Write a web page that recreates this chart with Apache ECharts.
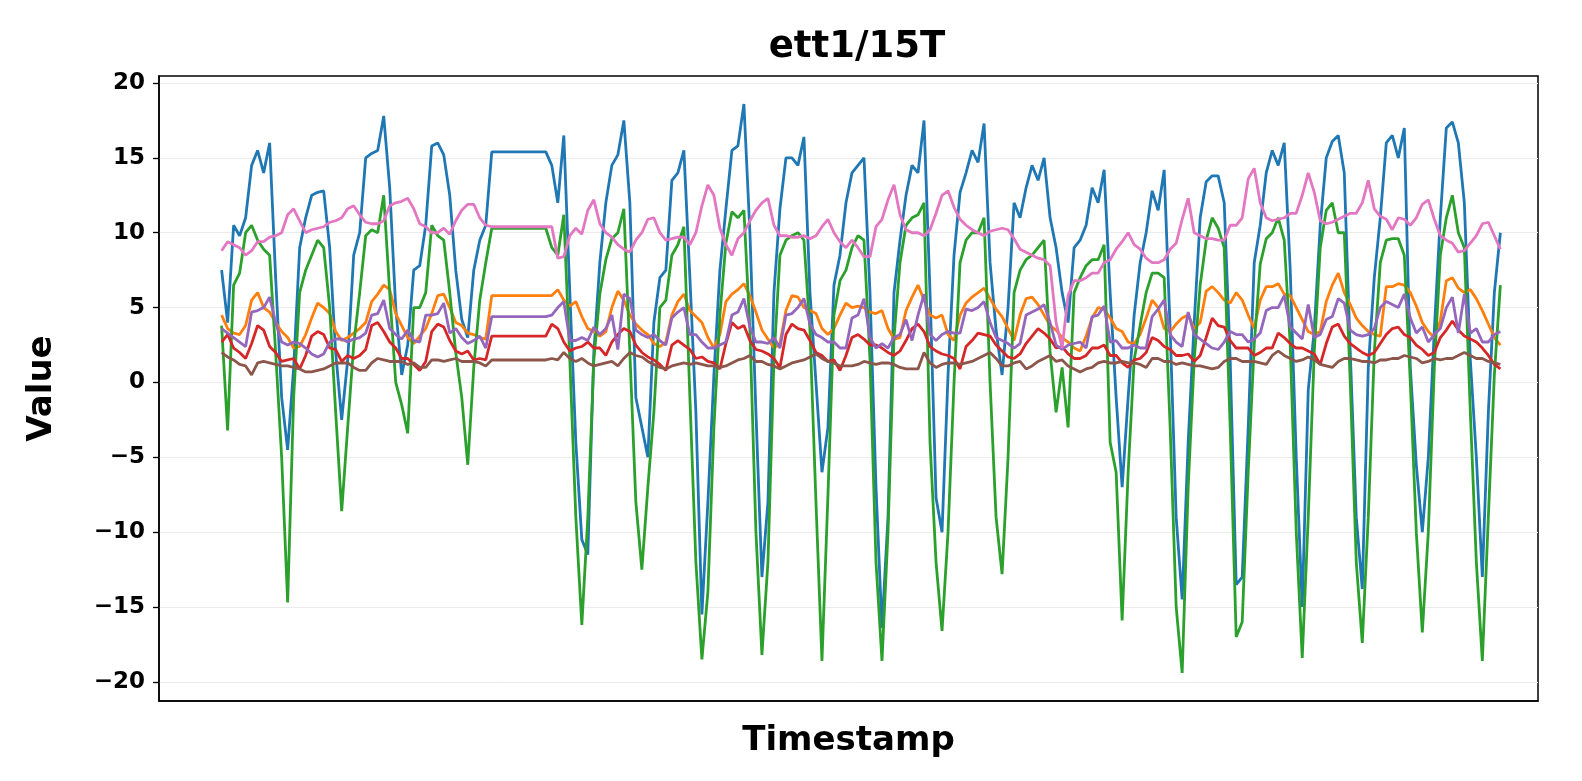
<!DOCTYPE html>
<html>
<head>
<meta charset="utf-8">
<title>ett1/15T</title>
<script src="https://cdn.jsdelivr.net/npm/echarts@6/dist/echarts.min.js"></script>
<style>
  html, body { margin: 0; padding: 0; background: #fff; }
  #chart { width: 1582px; height: 781px; }
</style>
</head>
<body>
<div id="chart"></div>
<script>
// values, one sample every ~6px of the time axis
var HUFL = [
  7.5, 4.0, 10.5, 9.8, 11.0, 14.5, 15.5, 14.0, 16.0, 7.0,
  -1.0, -4.5, 1.0, 9.0, 11.0, 12.5, 12.7, 12.8, 9.0, 2.0,
  -2.5, 1.5, 8.5, 10.0, 15.0, 15.3, 15.5, 17.8, 13.0, 5.0,
  0.5, 2.5, 7.5, 7.8, 10.5,
  15.8, 16.0, 15.2, 12.5, 7.5, 4.2, 3.0, 7.5, 9.5, 10.5,
  15.4, 15.4, 15.4, 15.4, 15.4, 15.4, 15.4, 15.4, 15.4, 15.4,
  14.5, 12.0, 16.5, 6.0, -4.0,
  -10.5, -11.5, 2.0, 8.0, 12.0, 14.5, 15.2, 17.5, 12.0, -1.0,
  -3.0, -5.0, 4.0, 7.0, 7.5, 13.5, 14.0, 15.5, 7.0, -2.0,
  -15.5, -8.0, 0.5, 7.5, 11.6, 15.5, 15.8, 18.6, 10.0, -2.0,
  -13.0, -8.0, 6.0, 11.6, 15.0, 15.0, 14.5, 16.4, 6.0, 0.0,
  -6.0, -3.0, 6.5, 8.5, 12.0,
  14.0, 14.5, 15.0, 6.0, -7.0, -16.4, -9.0, 6.0, 9.5, 12.5,
  14.5, 14.0, 17.5, 6.0, -7.7, -10.0, 0.5, 8.5, 12.7, 14.0,
  15.5, 14.7, 17.3, 8.0, 3.5, 0.5, 5.0, 12.0, 11.0, 13.0,
  14.5, 13.5, 15.0, 11.0, 9.0,
  6.0, 4.0, 9.0, 9.5, 10.5, 13.0, 12.0, 14.2, 6.0, -1.0,
  -7.0, -1.0, 4.5, 8.0, 10.0, 12.8, 11.5, 14.2, 3.5, -9.0,
  -14.5, -4.0, 4.0, 11.0, 13.4, 13.8, 13.8, 12.0, 1.5, -13.5,
  -13.0, -3.0, 8.0, 10.5, 14.0,
  15.5, 14.5, 16.0, 7.5, -5.0, -15.0, -0.5, 3.5, 10.5, 15.0,
  16.1, 16.5, 14.0, 2.0, -9.0, -13.8, 1.0, 7.0, 11.0, 16.0,
  16.5, 15.0, 17.0, 1.0, -5.5, -10.0, -5.0, 3.5, 11.0, 17.0,
  17.4, 16.0, 12.0, 1.5, -5.0, -13.0, -2.0, 6.0, 10.0
];
var HULL = [
  4.5, 3.6, 3.3, 3.2, 3.8, 5.5, 6.0, 5.0, 4.7, 4.0,
  3.4, 3.0, 2.3, 2.4, 3.2, 4.3, 5.3, 5.0, 4.6, 3.4,
  2.8, 3.0, 3.3, 3.6, 4.0, 5.4, 5.9, 6.5, 6.2, 4.6,
  3.8, 3.0, 2.6, 3.1, 3.6,
  4.6, 5.8, 5.9, 5.0, 4.0, 3.8, 3.3, 3.2, 3.0, 2.9,
  5.8, 5.8, 5.8, 5.8, 5.8, 5.8, 5.8, 5.8, 5.8, 5.8,
  5.8, 6.2, 5.5, 5.1, 5.4,
  4.4, 3.6, 3.4, 3.1, 3.4, 5.0, 6.1, 5.5, 4.5, 3.9,
  3.5, 3.2, 2.6, 2.4, 2.7, 4.5, 5.4, 5.9, 4.8, 4.4,
  4.0, 3.0, 2.3, 3.2, 5.4, 5.9, 6.2, 6.6, 5.8, 4.7,
  3.5, 2.9, 2.3, 2.6, 4.8, 5.8, 5.7, 5.0, 4.8, 4.6,
  3.6, 3.2, 3.6, 4.5, 5.3,
  5.0, 5.1, 5.0, 4.7, 4.6, 4.8, 3.6, 2.9, 3.0, 4.8,
  5.7, 6.5, 5.5, 4.5, 4.3, 4.5, 3.2, 2.8, 4.5, 5.3,
  5.7, 6.0, 6.3, 5.6, 4.9, 4.4, 3.6, 2.8, 4.5, 5.6,
  5.7, 5.2, 4.5, 3.8, 3.5,
  3.0, 2.7, 2.3, 2.1, 3.1, 4.3, 5.0, 4.9, 4.3, 3.6,
  3.4, 2.7, 2.6, 3.2, 4.3, 5.5, 5.0, 3.6, 3.4, 3.9,
  4.3, 4.5, 3.6, 4.0, 6.1, 6.4, 6.0, 5.5, 5.3, 6.0,
  5.5, 4.5, 3.6, 5.5, 6.4,
  6.4, 6.6, 5.9, 5.8, 5.0, 4.2, 3.4, 3.2, 3.4, 5.4,
  6.5, 7.3, 6.0, 5.2, 4.3, 3.8, 3.4, 3.2, 3.1, 6.4,
  6.4, 6.6, 6.5, 6.0, 5.1, 4.0, 3.4, 3.0, 4.1, 6.8,
  7.0, 6.3, 6.0, 6.2, 5.6, 4.8, 3.9, 3.0, 2.5
];
var MUFL = [
  3.8, -3.2, 6.5, 7.3, 10.0, 10.5, 9.5, 8.9, 8.5, 2.0,
  -5.0, -14.7, -1.0, 6.0, 7.5, 8.5, 9.5, 9.0, 5.0, -2.0,
  -8.6, -3.0, 2.5, 6.0, 9.8, 10.2, 10.0, 12.5, 6.0, 0.0,
  -1.5, -3.4, 5.0, 5.0, 6.0,
  10.5, 9.8, 9.5, 6.0, 2.0, -1.0, -5.5, 1.0, 5.5, 8.0,
  10.3, 10.3, 10.3, 10.3, 10.3, 10.3, 10.3, 10.3, 10.3, 10.3,
  9.0, 8.5, 11.2, 1.5, -9.0,
  -16.2, -9.0, 1.5, 5.9, 8.2, 9.6, 10.0, 11.6, 2.0, -8.0,
  -12.5, -7.0, -2.0, 5.0, 5.5, 8.5, 9.2, 10.4, -1.0, -12.0,
  -18.5, -14.0, -3.0, 4.5, 9.3, 11.4, 11.0, 11.5, 3.5, -10.0,
  -18.2, -12.0, 1.5, 8.5, 9.5, 9.8, 10.0, 9.5, 3.5, -8.0,
  -18.6, -7.5, 4.5, 6.8, 7.5,
  9.0, 9.8, 9.5, 1.5, -12.0, -18.6, -10.0, 3.0, 8.0, 10.5,
  11.0, 11.2, 12.0, -4.0, -12.0, -16.6, -10.0, 0.0, 8.0, 9.5,
  10.0, 10.0, 11.0, 0.0, -9.0, -12.8, -5.0, 6.0, 7.5, 8.2,
  8.5, 9.0, 9.5, 2.0, -2.0,
  1.0, -3.0, 6.0, 7.0, 7.8, 8.2, 8.2, 9.2, -4.0, -6.0,
  -15.9, -6.0, 1.5, 3.8, 6.0, 7.3, 7.3, 7.0, -3.0, -15.0,
  -19.4, -7.0, 1.5, 6.5, 9.5, 11.0, 10.3, 9.0, -3.0, -17.0,
  -16.0, -6.0, 2.5, 7.9, 9.6,
  10.0, 11.0, 9.5, 2.5, -10.0, -18.4, -9.0, 2.0, 9.0, 11.5,
  12.0, 10.0, 10.0, 0.0, -12.0, -17.4, -9.0, 2.0, 8.0, 9.5,
  9.6, 9.6, 8.5, 0.0, -10.0, -16.7, -10.0, 1.0, 8.5, 11.0,
  12.5, 10.0, 9.0, -2.0, -12.0, -18.6, -9.0, 0.5, 6.5
];
var MULL = [
  2.7, 3.2, 2.3, 2.0, 1.6, 2.6, 3.8, 3.5, 2.4, 2.0,
  1.4, 1.5, 1.6, 0.9, 1.8, 3.1, 3.4, 3.2, 2.3, 2.2,
  1.4, 1.8, 1.6, 1.8, 2.2, 3.8, 4.0, 3.4, 2.7, 2.3,
  1.6, 1.6, 1.2, 0.8, 1.4,
  3.4, 3.9, 3.7, 2.8, 2.1, 1.9, 2.1, 1.5, 1.6, 1.5,
  3.1, 3.1, 3.1, 3.1, 3.1, 3.1, 3.1, 3.1, 3.1, 3.1,
  3.9, 3.6, 2.7, 2.1, 2.3,
  2.4, 2.7, 2.3, 2.3, 1.8, 2.7, 3.2, 3.6, 3.4, 2.5,
  2.0, 1.7, 1.5, 1.2, 0.8, 2.5, 2.8, 2.5, 2.2, 1.6,
  1.7, 1.4, 1.3, 0.9, 2.6, 4.0, 3.6, 3.8, 2.8, 2.2,
  2.1, 1.9, 1.6, 1.0, 3.2, 3.9, 3.6, 3.5, 2.8, 2.0,
  1.8, 1.4, 1.5, 0.8, 1.8,
  3.0, 3.2, 2.9, 2.5, 2.5, 2.3, 2.0, 1.8, 2.1, 2.8,
  3.6, 3.9, 3.4, 2.4, 2.1, 1.9, 1.8, 1.6, 0.9, 2.4,
  2.8, 3.3, 3.2, 3.1, 2.5, 2.1, 1.7, 1.6, 1.9, 2.6,
  3.1, 3.6, 3.3, 2.9, 2.3,
  2.4, 1.9, 1.6, 1.6, 1.8, 2.3, 2.3, 2.5, 1.8, 1.8,
  1.3, 1.0, 1.5, 1.6, 2.0, 3.0, 2.8, 2.4, 2.2, 1.8,
  1.8, 1.9, 1.4, 1.8, 3.0, 4.3, 3.8, 3.7, 2.8, 2.3,
  2.3, 2.3, 1.8, 2.0, 2.3,
  2.3, 3.3, 3.0, 2.6, 2.3, 2.3, 2.1, 1.9, 1.2, 2.6,
  3.7, 3.9, 3.1, 2.6, 2.3, 2.0, 1.8, 2.0, 2.6, 3.2,
  3.6, 3.7, 3.2, 3.0, 2.5, 2.2, 1.8, 2.0, 3.0, 3.5,
  4.1, 3.5, 3.1, 2.9, 2.7, 2.3, 1.8, 1.2, 0.9
];
var LUFL = [
  3.6, 3.3, 3.0, 2.7, 2.4, 4.7, 4.8, 5.0, 5.7, 4.0,
  2.7, 2.5, 2.7, 2.6, 2.3, 1.9, 1.7, 1.9, 2.7, 2.9,
  2.9, 2.7, 2.9, 3.0, 3.3, 4.5, 4.6, 5.5, 3.6, 3.2,
  2.9, 3.5, 2.8, 2.7, 4.5,
  4.5, 4.6, 5.3, 3.3, 3.6, 3.0, 2.6, 2.8, 3.1, 2.3,
  4.4, 4.4, 4.4, 4.4, 4.4, 4.4, 4.4, 4.4, 4.4, 4.4,
  4.5, 5.0, 5.4, 2.8, 2.8,
  3.0, 2.8, 3.7, 3.2, 3.6, 4.5, 2.2, 5.9, 5.6, 3.5,
  3.2, 3.0, 3.2, 2.8, 2.5, 4.3, 4.7, 5.0, 3.2, 3.2,
  2.7, 2.3, 2.3, 2.5, 2.7, 4.5, 4.7, 5.6, 3.7, 2.7,
  2.7, 2.6, 3.0, 2.3, 4.5, 4.6, 5.0, 5.6, 3.9, 3.2,
  3.0, 2.7, 2.7, 2.3, 2.3,
  4.3, 4.5, 5.6, 3.0, 2.3, 2.6, 2.3, 3.0, 3.2, 4.2,
  2.8, 4.5, 5.9, 3.2, 2.8, 3.2, 3.4, 3.3, 3.3, 4.9,
  4.8, 5.0, 5.4, 4.0, 3.0, 2.8, 2.6, 2.3, 2.6, 4.5,
  4.7, 4.9, 5.2, 4.0, 2.5,
  2.2, 2.5, 2.6, 2.7, 2.3, 4.4, 4.5, 5.1, 2.7, 2.8,
  2.3, 2.3, 2.5, 2.3, 2.3, 4.4, 4.9, 5.5, 3.2, 2.7,
  2.4, 4.7, 3.2, 2.9, 2.6, 2.3, 2.2, 2.7, 3.4, 3.2,
  3.2, 2.7, 2.9, 3.3, 4.8,
  5.0, 5.0, 5.8, 3.7, 3.3, 2.9, 5.2, 3.0, 3.2, 4.2,
  4.4, 5.6, 5.3, 3.5, 3.2, 3.1, 3.2, 3.6, 5.0, 5.4,
  5.2, 5.0, 5.9, 4.3, 3.3, 3.7, 2.7, 3.2, 3.6, 5.0,
  5.7, 3.3, 5.9, 3.3, 3.6, 2.7, 2.7, 3.2, 3.4
];
var LULL = [
  2.0, 1.7, 1.5, 1.2, 1.1, 0.5, 1.3, 1.4, 1.3, 1.2,
  1.1, 1.1, 1.0, 0.9, 0.7, 0.7, 0.8, 0.9, 1.1, 1.3,
  1.3, 1.3, 1.0, 0.8, 0.8, 1.3, 1.6, 1.5, 1.4, 1.4,
  1.4, 1.2, 1.3, 1.0, 1.0,
  1.5, 1.5, 1.4, 1.5, 1.6, 1.4, 1.4, 1.4, 1.3, 1.1,
  1.5, 1.5, 1.5, 1.5, 1.5, 1.5, 1.5, 1.5, 1.5, 1.5,
  1.6, 1.5, 2.0, 1.6, 1.4,
  1.6, 1.3, 1.1, 1.2, 1.3, 1.4, 1.1, 1.6, 2.0, 1.8,
  1.7, 1.4, 1.2, 1.0, 0.9, 1.1, 1.2, 1.3, 1.2, 1.3,
  1.2, 1.1, 1.1, 1.0, 1.1, 1.3, 1.5, 1.6, 1.8, 1.4,
  1.4, 1.2, 1.1, 0.9, 1.1, 1.3, 1.4, 1.5, 1.7, 1.9,
  1.6, 1.4, 1.3, 1.1, 1.1,
  1.1, 1.2, 1.4, 1.3, 1.2, 1.3, 1.3, 1.2, 1.0, 0.9,
  0.9, 0.9, 2.0, 1.3, 1.0, 1.2, 1.3, 1.3, 1.2, 1.3,
  1.4, 1.6, 1.8, 2.0, 1.6, 1.1, 1.1, 1.3, 1.4, 0.9,
  1.1, 1.4, 1.6, 1.8, 1.4,
  1.5, 1.1, 0.9, 0.7, 0.9, 1.0, 1.3, 1.4, 1.3, 1.3,
  1.4, 1.3, 1.3, 1.2, 1.0, 1.6, 1.6, 1.4, 1.4, 1.2,
  1.3, 1.2, 1.1, 1.1, 1.0, 0.9, 1.0, 1.4, 1.6, 1.6,
  1.4, 1.4, 1.4, 1.3, 1.2,
  1.8, 2.1, 1.8, 1.6, 1.4, 1.5, 1.7, 1.5, 1.2, 1.1,
  1.0, 1.4, 1.6, 1.6, 1.5, 1.4, 1.4, 1.3, 1.5, 1.5,
  1.6, 1.6, 1.8, 1.7, 1.6, 1.3, 1.4, 1.6, 1.5, 1.6,
  1.6, 1.8, 2.0, 1.8, 1.6, 1.6, 1.4, 1.3, 1.2
];
var OT = [
  8.8, 9.4, 9.2, 9.0, 8.5, 8.8, 9.4, 9.4, 9.7, 9.8,
  10.0, 11.2, 11.6, 10.8, 10.0, 10.2, 10.3, 10.4, 10.7, 10.8,
  11.0, 11.6, 11.8, 11.2, 10.7, 10.6, 10.6, 10.8, 11.8, 12.0,
  12.1, 12.3, 11.6, 10.6, 10.4,
  10.0, 10.0, 10.3, 9.9, 10.8, 11.5, 11.9, 11.9, 11.0, 10.5,
  10.4, 10.4, 10.4, 10.4, 10.4, 10.4, 10.4, 10.4, 10.4, 10.4,
  10.4, 8.3, 8.4, 9.8, 10.3,
  9.9, 11.5, 12.2, 10.6, 10.0, 9.7, 9.2, 8.9, 8.7, 9.5,
  10.0, 10.9, 11.0, 10.0, 9.5, 9.6, 9.7, 9.7, 9.2, 10.0,
  11.8, 13.2, 12.5, 10.3, 9.2, 8.5, 9.6, 10.0, 10.8, 11.5,
  12.0, 12.3, 10.5, 9.8, 9.8, 9.7, 9.7, 9.8, 9.6, 9.8,
  10.4, 10.9, 10.0, 9.4, 9.0,
  9.5, 9.0, 8.4, 8.4, 10.4, 10.9, 12.2, 13.2, 11.2, 10.2,
  10.0, 10.0, 9.8, 10.2, 11.3, 12.5, 12.8, 11.7, 10.9, 10.5,
  10.2, 10.0, 9.8, 10.1, 10.2, 10.3, 10.2, 9.6, 8.9, 8.7,
  8.5, 8.3, 8.2, 7.8, 4.0,
  2.3, 5.8, 6.8, 6.8, 7.0, 7.3, 7.3, 8.0, 8.2, 8.9,
  9.4, 10.0, 9.2, 8.9, 8.3, 8.0, 8.0, 8.2, 8.9, 9.3,
  10.9, 12.3, 10.0, 9.8, 9.6, 9.6, 9.5, 9.5, 10.5, 10.5,
  11.0, 13.6, 14.3, 12.0, 11.0,
  10.8, 10.9, 11.0, 11.3, 11.3, 12.5, 14.0, 12.7, 10.8, 10.6,
  10.7, 10.9, 11.1, 11.3, 11.3, 12.0, 13.5, 11.6, 11.1, 10.9,
  10.2, 11.0, 10.9, 10.5, 11.0, 11.9, 12.2, 10.9, 9.8, 9.5,
  9.3, 8.7, 8.8, 9.3, 9.8, 10.6, 10.7, 9.8, 8.9
];
var seriesNames = ["HUFL", "HULL", "MUFL", "MULL", "LUFL", "LULL", "OT"];
var seriesColors = ["#1f77b4", "#ff7f0e", "#2ca02c", "#d62728", "#9467bd", "#8c564b", "#e377c2"];
var seriesValues = [HUFL, HULL, MUFL, MULL, LUFL, LULL, OT];
var yTicks = [-20, -15, -10, -5, 0, 5, 10, 15, 20];

var font = '"Comic Sans MS", "DejaVu Sans", sans-serif';

function pairs(vals) {
    var out = [];
    for (var i = 0; i < vals.length; i++) out.push([i, vals[i]]);
    return out;
}

var chart = echarts.init(document.getElementById("chart"));
var series = [];
for (var s = 0; s < seriesNames.length; s++) {
    series.push({
        name: seriesNames[s],
        type: "line",
        data: pairs(seriesValues[s]),
        showSymbol: false,
        lineStyle: { color: seriesColors[s], width: 2.8 },
        itemStyle: { color: seriesColors[s] },
        silent: true
    });
}

chart.setOption({
    animation: false,
    backgroundColor: "#fff",
    title: {
        text: "ett1/15T",
        left: 852,
        top: 24,
        textAlign: "center",
        textStyle: { fontFamily: font, fontWeight: "bold", fontSize: 37, color: "#000" }
    },
    grid: {
        left: 159, right: 44, top: 76, bottom: 80,
        show: true, borderColor: "#000", borderWidth: 1.5
    },
    xAxis: {
        type: "value",
        min: -10.43,
        max: 219.27,
        name: "Timestamp",
        nameLocation: "middle",
        nameGap: 23,
        nameTextStyle: { fontFamily: font, fontWeight: "bold", fontSize: 34, color: "#000" },
        axisLine: { show: true, onZero: false, lineStyle: { color: "#000", width: 1.5 } },
        axisTick: { show: false },
        axisLabel: { show: false },
        splitLine: { show: false }
    },
    yAxis: {
        type: "value",
        min: -21.28,
        max: 20.47,
        name: "Value",
        nameLocation: "middle",
        nameGap: 100,
        nameTextStyle: { fontFamily: font, fontWeight: "bold", fontSize: 34, color: "#000" },
        axisLine: { show: true, onZero: false, lineStyle: { color: "#000", width: 1.5 } },
        axisTick: { show: true, length: 6, customValues: yTicks, lineStyle: { color: "#000", width: 1.3 } },
        axisLabel: {
            customValues: yTicks,
            margin: 14,
            fontFamily: font, fontWeight: "bold", fontSize: 23, color: "#000",
            formatter: function (v) { return String(v).replace("-", "\u2212"); }
        },
        splitLine: { show: true, lineStyle: { color: "#ebebeb", width: 1 } }
    },
    series: series
});
</script>
</body>
</html>
